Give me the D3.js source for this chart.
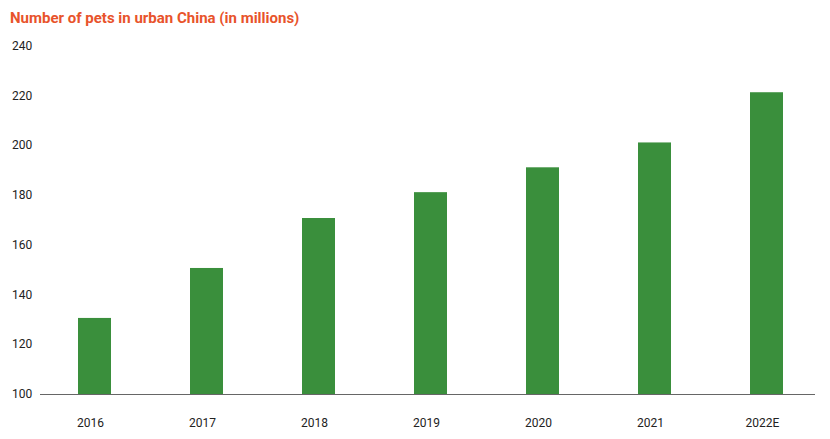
<!DOCTYPE html>
<html><head><meta charset="utf-8">
<script src="https://cdn.jsdelivr.net/npm/d3@7"></script>
<style>body{margin:0;background:#fff}</style></head>
<body><svg id="c" width="830" height="439"></svg>
<script>
const categories=["2016","2017","2018","2019","2020","2021","2022E"];
const values=[130.6,150.7,170.8,181.2,191.2,201.2,221.4];
const yTicks=[100,120,140,160,180,200,220,240];
const svg=d3.select("#c");
const x=d3.scaleBand().domain(categories).range([38.5,822.5]).paddingInner(1-33/112).paddingOuter((1-33/112)/2);
const y=d3.scaleLinear().domain([100,240]).range([394,46]);
svg.append("text").attr("x",10).attr("y",23).attr("fill","#e8532b").attr("font-family","Roboto, sans-serif").attr("font-weight","bold").attr("font-size",15).text("Number of pets in urban China (in millions)");
svg.selectAll(".yt").data(yTicks).join("text").attr("x",12).attr("y",d=>y(d)+4).attr("font-family","Roboto, sans-serif").attr("font-size",12).attr("fill","#222").text(d=>d);
svg.selectAll("rect").data(values).join("rect").attr("x",(d,i)=>x(categories[i])).attr("width",x.bandwidth()).attr("y",d=>y(d)).attr("height",d=>y(100)-y(d)).attr("fill","#3a8f3c");
svg.append("line").attr("x1",40).attr("x2",815).attr("y1",394.5).attr("y2",394.5).attr("stroke","#666").attr("stroke-width",1);
svg.selectAll(".xt").data(categories).join("text").attr("x",d=>x(d)+x.bandwidth()/2-4).attr("y",427).attr("text-anchor","middle").attr("font-family","Roboto, sans-serif").attr("font-size",12).attr("fill","#222").text(d=>d);
</script></body></html>
